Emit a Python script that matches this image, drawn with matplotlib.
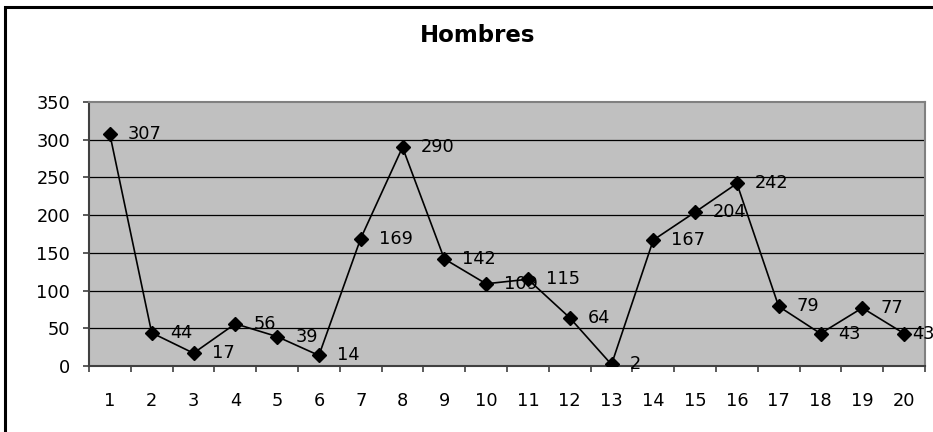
"""Line chart 'Hombres' in the old Excel style"""

import matplotlib
matplotlib.use("Agg")
import matplotlib.pyplot as plt
from matplotlib.patches import Rectangle

# data
categories = list(range(1, 21))
values = [307, 44, 17, 56, 39, 14, 169, 290, 142, 109,
          115, 64, 2, 167, 204, 242, 79, 43, 77, 43]
y_ticks = [0, 50, 100, 150, 200, 250, 300, 350]
title = "Hombres"

W, H = 933, 432
fig = plt.figure(figsize=(W / 100, H / 100), dpi=100)

# black frame around the chart (runs off the right and bottom edge)
fig.patches.append(Rectangle((5 / W, -0.1), 1.2, (H - 7) / H + 0.1,
                             transform=fig.transFigure, fill=False,
                             edgecolor='black', linewidth=2.2))

ax = fig.add_axes([89 / W, (H - 366) / H, (925 - 89) / W, (366 - 102) / H])
ax.set_facecolor('#c0c0c0')

# horizontal gridlines
for y in y_ticks[1:-1]:
    ax.axhline(y, color='black', linewidth=0.9, zorder=1)

ax.plot(categories, values, color='black', linewidth=1.2, marker='D',
        markersize=7.5, markerfacecolor='black', markeredgecolor='black', zorder=3)

# data labels to the right of each point (the last one squeezed against the edge)
for i, (x, v) in enumerate(zip(categories, values)):
    dx = 6 if i == len(values) - 1 else 13
    ax.annotate(str(v), (x, v), xytext=(dx, 0), textcoords='offset points',
                va='center', ha='left', fontsize=12.8, family='DejaVu Sans',
                annotation_clip=False, zorder=4)

ax.set_xlim(0.5, 20.5)
ax.set_ylim(0, 350)

# category ticks between points, labels centred under each point
ax.set_xticks([c - 0.5 for c in categories] + [categories[-1] + 0.5])
ax.set_xticklabels([])
ax.set_xticks(categories, minor=True)
ax.set_xticklabels([str(c) for c in categories], minor=True,
                   fontsize=12.8, family='DejaVu Sans')
ax.tick_params(axis='x', which='major', length=4, width=1.2, color='#404040', direction='out')
ax.tick_params(axis='x', which='minor', length=0, pad=19)

ax.set_yticks(y_ticks)
ax.set_yticklabels([str(t) for t in y_ticks], fontsize=12.8, family='DejaVu Sans')
ax.tick_params(axis='y', length=4.5, width=1.2, color='#404040', direction='out', pad=9)

for side in ['top', 'right']:
    ax.spines[side].set_color('#808080')
    ax.spines[side].set_linewidth(1.5)
for side in ['left', 'bottom']:
    ax.spines[side].set_color('#404040')
    ax.spines[side].set_linewidth(1.5)

fig.text(478 / W, (H - 36) / H, title, ha='center', va='center',
         fontsize=16.5, fontweight='bold', family='DejaVu Sans')

fig.savefig('out.png', dpi=100)
